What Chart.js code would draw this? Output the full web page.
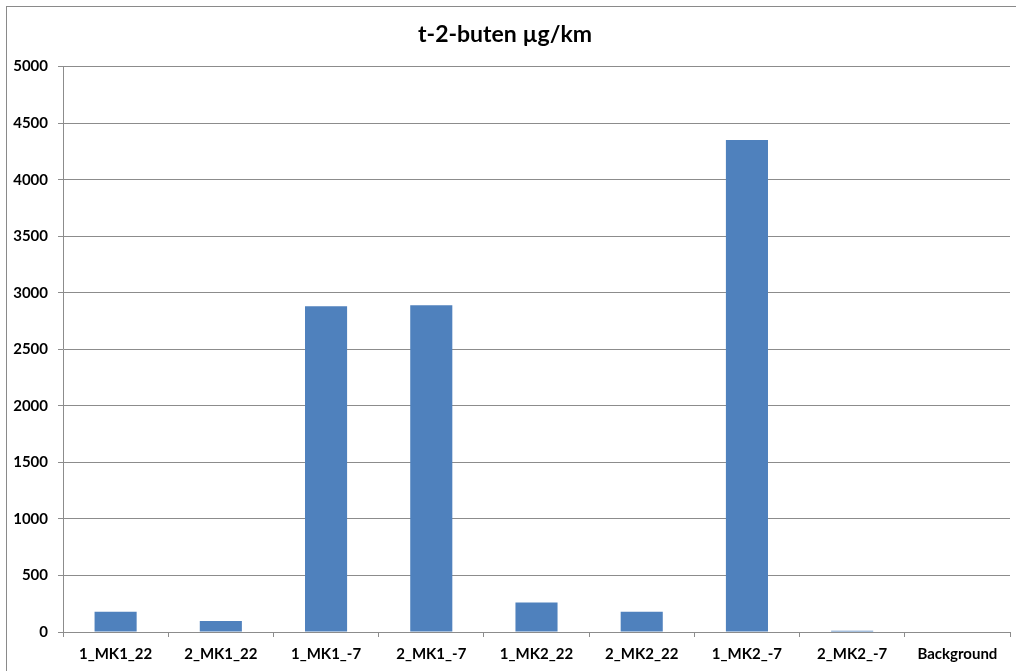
<!DOCTYPE html>
<html>
<head>
<meta charset="utf-8">
<script src="https://cdn.jsdelivr.net/npm/chart.js@4/dist/chart.umd.min.js"></script>
<style>
  html, body { margin: 0; padding: 0; background: #ffffff; }
  #wrap { position: relative; width: 1016px; height: 671px; }
</style>
</head>
<body>
<div id="wrap"><canvas id="c" width="1016" height="671"></canvas></div>
<script>
// Emission samples and measured t-2-butene (µg/km)
const categories = ["1_MK1_22", "2_MK1_22", "1_MK1_-7", "2_MK1_-7", "1_MK2_22", "2_MK2_22", "1_MK2_-7", "2_MK2_-7", "Background"];
const values = [180, 97, 2880, 2890, 260, 178, 4350, 10, 0];
const yTicks = [0, 500, 1000, 1500, 2000, 2500, 3000, 3500, 4000, 4500, 5000];
const chartTitle = "t-2-buten µg/km";

const FONT = "Lato, 'Liberation Sans', sans-serif";
const GRID = "#8c8c8c";

// light frame around the whole chart
const framePlugin = {
  id: 'frame',
  beforeDraw(chart) {
    const ctx = chart.ctx;
    ctx.save();
    ctx.fillStyle = '#ffffff';
    ctx.fillRect(0, 0, chart.width, chart.height);
    ctx.strokeStyle = '#8a8a8a';
    ctx.lineWidth = 1;
    ctx.strokeRect(6.5, 6.5, chart.width, chart.height);
    ctx.restore();
  }
};

new Chart(document.getElementById('c'), {
  type: 'bar',
  data: {
    labels: categories,
    datasets: [{
      data: values,
      backgroundColor: '#4f81bd',
      borderWidth: 0,
      barPercentage: 0.4,
      categoryPercentage: 1.0
    }]
  },
  options: {
    responsive: false,
    animation: false,
    layout: { padding: { left: 0, right: 6, top: 0, bottom: 0 } },
    plugins: {
      legend: { display: false },
      tooltip: { enabled: false },
      title: {
        display: true,
        text: chartTitle,
        color: '#000000',
        font: { family: FONT, size: 23, weight: 'bold' },
        padding: { top: 21, bottom: 18 }
      }
    },
    scales: {
      x: {
        grid: {
          display: true,
          drawOnChartArea: false,
          drawTicks: true,
          tickLength: 5,
          color: GRID,
          offset: true
        },
        border: { display: true, color: GRID, width: 1 },
        ticks: {
          color: '#000000',
          font: { family: FONT, size: 15, weight: 'bold' },
          padding: 8,
          maxRotation: 0,
          autoSkip: false
        },
        afterFit(scale) { scale.height = 39; }
      },
      y: {
        min: 0,
        max: 5000,
        afterBuildTicks(scale) { scale.ticks = yTicks.map(v => ({ value: v })); },
        grid: {
          display: true,
          drawOnChartArea: true,
          drawTicks: true,
          tickLength: 5,
          color: GRID,
          lineWidth: 1
        },
        border: { display: true, color: GRID, width: 1 },
        ticks: {
          color: '#000000',
          font: { family: FONT, size: 15, weight: 'bold' },
          padding: 10,
          callback: (v) => String(v)
        },
        afterFit(scale) { scale.width = 63; }
      }
    }
  },
  plugins: [framePlugin]
});
</script>
</body>
</html>
